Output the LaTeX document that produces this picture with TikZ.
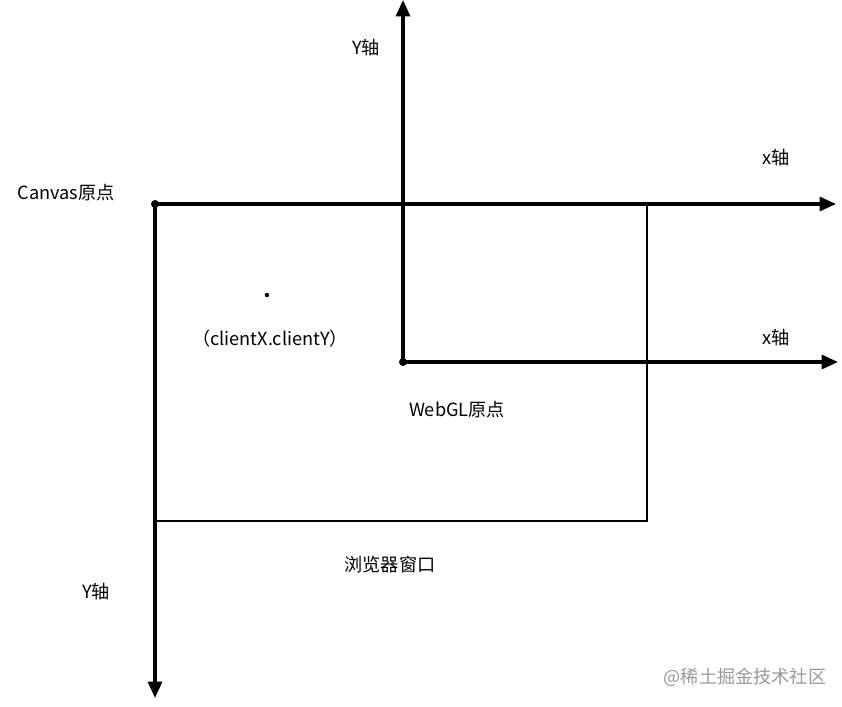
\documentclass[tikz,border=0pt]{standalone}
\usepackage{fontspec}
\setmainfont{Noto Sans CJK SC}
\usetikzlibrary{arrows.meta}
\tikzset{
  axis/.style={line width=2.6pt,-{Triangle[length=14pt,width=12pt]}},
  lbl/.style={font=\fontsize{15.5}{18}\selectfont},
}
\begin{document}
\begin{tikzpicture}[x=0.03cm,y=-0.03cm]
\useasboundingbox (0,0) rectangle (842,707);
%% canvas axes
\coordinate (co) at (155,204);
\coordinate (cx) at (836,204);
\coordinate (cy) at (155,698);
\draw[axis] (co)--(cx);
\draw[axis] (co)--(cy);
\fill (co) circle (4);
%% browser window
\draw[line width=0.9pt] (co) rectangle (647,521);
%% webgl axes
\coordinate (wo) at (403,362);
\coordinate (wx) at (838,362);
\coordinate (wy) at (403,0);
\draw[axis] (wo)--(wx);
\draw[axis] (wo)--(wy);
\fill (wo) circle (4);
%% client point
\fill (267,295) circle (2.2);
%% labels
\node[lbl] (canvaso) at (66,193) {Canvas原点};
\node[lbl] (wyl) at (366,48) {Y轴};
\node[lbl] (cxl) at (776,158) {x轴};
\node[lbl] (wxl) at (776,338) {x轴};
\node[lbl] (client) at (270,339) {（clientX.clientY）};
\node[lbl] (webglo) at (457,410) {WebGL原点};
\node[lbl] (window) at (390,565) {浏览器窗口};
\node[lbl] (cyl) at (96,592) {Y轴};
\node[lbl,text=black!40] (mark) at (745,677) {@稀土掘金技术社区};
\end{tikzpicture}
\end{document}
